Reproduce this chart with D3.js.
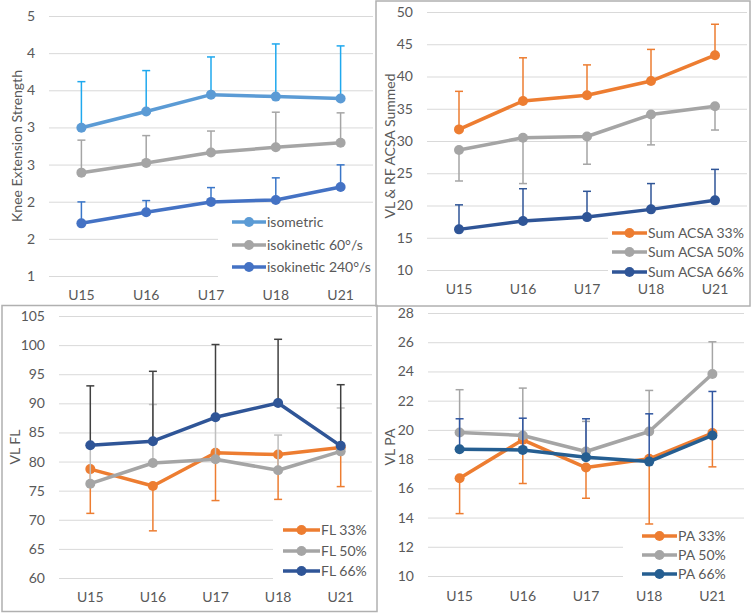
<!DOCTYPE html>
<html>
  <head>
    <meta charset="utf-8" />
    <title>Knee strength and muscle architecture</title>
    <style>
      body { margin: 0; background: #fff; font-family: 'Lato', sans-serif; }
      .tick text { fill: #595959; font-size: 14px; }
      .grid line { stroke: #d9d9d9; stroke-width: 1px; }
      .title { fill: #595959; font-size: 14px; }
      .legend text { fill: #595959; font-size: 14px; }
    </style>
    <script src="https://d3js.org/d3.v7.min.js"></script>
  </head>
  <body>
    <div id="chart"></div>
    <script>
      const categories = ["U15", "U16", "U17", "U18", "U21"];

      // top left: knee extension strength (error bars upwards)
      const isometric = [3.28, 3.53, 3.79, 3.76, 3.73];
      const isometricSD = [0.71, 0.63, 0.58, 0.81, 0.81];
      const isokinetic60 = [2.59, 2.74, 2.9, 2.98, 3.05];
      const isokinetic60SD = [0.5, 0.42, 0.33, 0.54, 0.46];
      const isokinetic240 = [1.81, 1.98, 2.14, 2.17, 2.37];
      const isokinetic240SD = [0.33, 0.18, 0.22, 0.34, 0.34];
      const strengthTicks = [1, 1 + 4 / 7, 1 + 8 / 7, 1 + 12 / 7, 1 + 16 / 7, 1 + 20 / 7, 1 + 24 / 7, 5];

      // top right: summed ACSA
      const acsa33 = [31.8, 36.2, 37.1, 39.3, 43.3];
      const acsa33SD = [5.9, 6.7, 4.7, 4.9, 4.8];
      const acsa50 = [28.6, 30.5, 30.7, 34.1, 35.4];
      const acsa50SD = [4.8, 7.1, 4.3, 4.7, 3.7];
      const acsa66 = [16.3, 17.6, 18.2, 19.4, 20.8];
      const acsa66SD = [3.8, 5.0, 4.0, 4.0, 4.8];
      const acsaTicks = [10, 15, 20, 25, 30, 35, 40, 45, 50];

      // bottom left: fascicle length
      const fl33 = [78.7, 75.8, 81.5, 81.2, 82.4];
      const fl33SD = [7.6, 7.7, 8.2, 7.7, 6.7];
      const fl50 = [76.2, 79.75, 80.4, 78.5, 81.75];
      const fl50SD = [6.7, 10.05, 7.1, 6.05, 7.45];
      const fl66 = [82.8, 83.5, 87.6, 90.05, 82.7];
      const fl66SD = [10.2, 12.0, 12.5, 10.95, 10.5];
      const flTicks = [60, 65, 70, 75, 80, 85, 90, 95, 100, 105];

      // bottom right: pennation angle
      const pa33 = [16.69, 19.32, 17.42, 18.02, 19.78];
      const pa33SD = [2.42, 2.99, 2.1, 4.46, 2.31];
      const pa50 = [19.82, 19.62, 18.52, 19.89, 23.82];
      const pa50SD = [2.93, 3.24, 2.06, 2.81, 2.21];
      const pa66 = [18.68, 18.63, 18.13, 17.83, 19.62];
      const pa66SD = [2.08, 2.17, 2.63, 3.27, 3.01];
      const paTicks = [10, 12, 14, 16, 18, 20, 22, 24, 26, 28];

      const W = 753, H = 613;
      const svg = d3.select("#chart").append("svg")
        .attr("width", W).attr("height", H);

      // panel frames
      svg.append("rect").attr("x", 376).attr("y", 1).attr("width", 374).attr("height", 305)
        .attr("fill", "none").attr("stroke", "#b0b0b0").attr("stroke-width", 1.5);
      svg.append("rect").attr("x", 2).attr("y", 305.5).attr("width", 375).attr("height", 306)
        .attr("fill", "none").attr("stroke", "#b0b0b0").attr("stroke-width", 1.5);

      const panels = [
        {
          x0: 49, x1: 373, yTop: 16, yBot: 276, domain: [1, 5], ticks: strengthTicks, fmt: d3.format(".0f"),
          title: "Knee Extension Strength", titleX: 17, titleY: 146, xLabelY: 290,
          legend: { x0: 218, x1: 373, y0: 208, y1: 280, rows: [222, 245, 267], lx: 232, tx: 267 },
          series: [
            { name: "isometric", values: isometric, sd: isometricSD, dir: 1, color: "#5b9bd5", err: "#1fa8ee" },
            { name: "isokinetic 60°/s", values: isokinetic60, sd: isokinetic60SD, dir: 1, color: "#a5a5a5", err: "#a5a5a5" },
            { name: "isokinetic 240°/s", values: isokinetic240, sd: isokinetic240SD, dir: 1, color: "#4472c4", err: "#3a76c8" }
          ]
        },
        {
          x0: 427, x1: 747, yTop: 12, yBot: 270, domain: [10, 50], ticks: acsaTicks, fmt: d3.format("d"),
          title: "VL & RF ACSA Summed", titleX: 390, titleY: 146, xLabelY: 284,
          legend: { x0: 608, x1: 747, y0: 222, y1: 282, rows: [233, 252, 272], lx: 612, tx: 648 },
          series: [
            { name: "Sum ACSA 33%", values: acsa33, sd: acsa33SD, dir: 1, color: "#ed7d31", err: "#ed7d31" },
            { name: "Sum ACSA 50%", values: acsa50, sd: acsa50SD, dir: -1, color: "#a5a5a5", err: "#a5a5a5" },
            { name: "Sum ACSA 66%", values: acsa66, sd: acsa66SD, dir: 1, color: "#2f5597", err: "#2f5597" }
          ]
        },
        {
          x0: 59, x1: 372, yTop: 316, yBot: 578, domain: [60, 105], ticks: flTicks, fmt: d3.format("d"),
          title: "VL FL", titleX: 15, titleY: 447, xLabelY: 592,
          legend: { x0: 273, x1: 372, y0: 515, y1: 584, rows: [530, 551, 571], lx: 283, tx: 321 },
          series: [
            { name: "FL 33%", values: fl33, sd: fl33SD, dir: -1, color: "#ed7d31", err: "#ed7d31" },
            { name: "FL 50%", values: fl50, sd: fl50SD, dir: 1, color: "#a5a5a5", err: "#bfbfbf" },
            { name: "FL 66%", values: fl66, sd: fl66SD, dir: 1, color: "#2f5597", err: "#404040" }
          ]
        },
        {
          x0: 428, x1: 744, yTop: 313, yBot: 576, domain: [10, 28], ticks: paTicks, fmt: d3.format("d"),
          title: "VL PA", titleX: 390, titleY: 447, xLabelY: 591,
          legend: { x0: 623, x1: 744, y0: 522, y1: 585, rows: [536, 555, 574], lx: 642, tx: 678 },
          series: [
            { name: "PA 33%", values: pa33, sd: pa33SD, dir: -1, color: "#ed7d31", err: "#ed7d31" },
            { name: "PA 50%", values: pa50, sd: pa50SD, dir: 1, color: "#a5a5a5", err: "#a5a5a5" },
            { name: "PA 66%", values: pa66, sd: pa66SD, dir: 1, color: "#255e91", err: "#2f55a0" }
          ]
        }
      ];

      panels.forEach(function (p) {
        const x = d3.scaleBand().domain(categories).range([p.x0, p.x1]);
        const y = d3.scaleLinear().domain(p.domain).range([p.yBot, p.yTop]);
        const cx = (c) => x(c) + x.bandwidth() / 2;

        // gridlines + tick labels
        const gy = svg.append("g").attr("class", "grid")
          .attr("transform", `translate(${p.x0},0)`)
          .call(d3.axisLeft(y).tickValues(p.ticks).tickFormat(p.fmt)
            .tickSize(-(p.x1 - p.x0)).tickPadding(14));
        gy.select(".domain").remove();

        // category labels
        const gx = svg.append("g")
          .attr("transform", `translate(0,${p.xLabelY})`)
          .call(d3.axisBottom(x).tickSize(0).tickPadding(0));
        gx.select(".domain").remove();

        // y title
        svg.append("text").attr("class", "title")
          .attr("transform", `translate(${p.titleX},${p.titleY}) rotate(-90)`)
          .attr("text-anchor", "middle").attr("dy", "0.35em")
          .text(p.title);

        // legend background hides the gridlines behind it
        const L = p.legend;
        svg.append("rect").attr("x", L.x0).attr("y", L.y0)
          .attr("width", L.x1 - L.x0).attr("height", L.y1 - L.y0).attr("fill", "#fff");

        const line = d3.line().x((d) => cx(d.c)).y((d) => y(d.v));

        p.series.forEach(function (s) {
          const pts = categories.map((c, i) => ({ c: c, v: s.values[i], e: s.values[i] + s.dir * s.sd[i] }));
          const g = svg.append("g");

          // one-sided error bars
          g.selectAll(".err").data(pts).enter().append("line")
            .attr("x1", (d) => cx(d.c)).attr("x2", (d) => cx(d.c))
            .attr("y1", (d) => y(d.v)).attr("y2", (d) => y(d.e))
            .attr("stroke", s.err).attr("stroke-width", 1.5);
          g.selectAll(".cap").data(pts).enter().append("line")
            .attr("x1", (d) => cx(d.c) - 4).attr("x2", (d) => cx(d.c) + 4)
            .attr("y1", (d) => y(d.e)).attr("y2", (d) => y(d.e))
            .attr("stroke", s.err).attr("stroke-width", 1.5);

          g.append("path").datum(pts).attr("d", line)
            .attr("fill", "none").attr("stroke", s.color).attr("stroke-width", 3.5)
            .attr("stroke-linejoin", "round");
          g.selectAll("circle").data(pts).enter().append("circle")
            .attr("cx", (d) => cx(d.c)).attr("cy", (d) => y(d.v)).attr("r", 5)
            .attr("fill", s.color);
        });

        // legend entries
        const lg = svg.append("g").attr("class", "legend");
        p.series.forEach(function (s, i) {
          const ry = L.rows[i];
          lg.append("line").attr("x1", L.lx).attr("x2", L.tx - 1).attr("y1", ry).attr("y2", ry)
            .attr("stroke", s.color).attr("stroke-width", 3.5);
          lg.append("circle").attr("cx", (L.lx + L.tx - 1) / 2).attr("cy", ry).attr("r", 5)
            .attr("fill", s.color);
          lg.append("text").attr("x", L.tx).attr("y", ry).attr("dy", "0.35em").text(s.name);
        });
      });

      svg.selectAll(".tick text").style("fill", "#595959").style("font-size", "14px")
        .style("font-family", "Lato, sans-serif");
    </script>
  </body>
</html>
